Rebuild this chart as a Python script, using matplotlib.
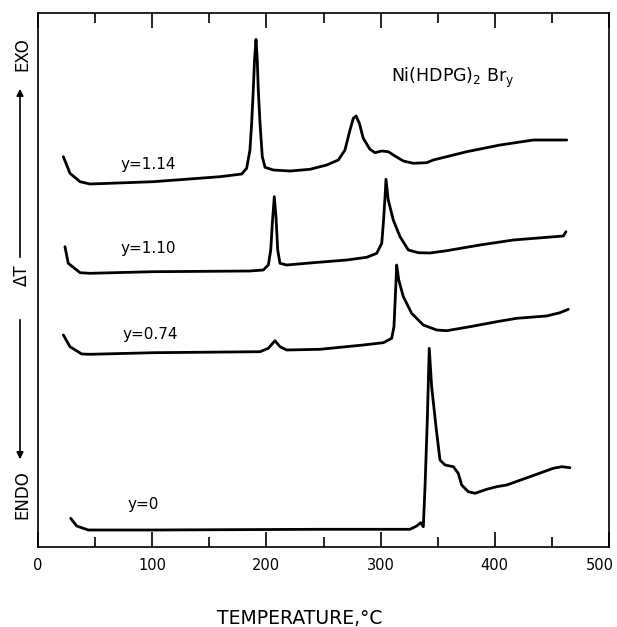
import matplotlib
matplotlib.use("Agg")
import matplotlib.pyplot as plt
import matplotlib.transforms as mtransforms
from matplotlib.patches import FancyArrowPatch

# ---- data (temperature in °C, ΔT in arbitrary units) ----
t_114 = [22.2, 28.0, 36.8, 45.5, 101.0, 159.4, 178.4, 182.7, 185.6, 187.1, 188.5, 189.6, 190.9, 192.0,
         192.9, 194.4, 196.4, 198.8, 206.0, 220.7, 238.2, 252.8, 263.0, 268.8, 273.2, 276.1, 278.5,
         281.4, 284.8, 290.7, 295.1, 301.0, 306.7, 312.6, 319.9, 328.6, 340.4, 346.1, 375.4, 404.6,
         433.7, 463.0]
d_114 = [390.3, 373.7, 365.3, 363, 365.3, 370.3, 373, 378.7, 397, 424, 457, 487, 507.5, 487,
         457, 424, 390.3, 379.7, 377, 376, 377.7, 382, 387, 397, 417, 428.7, 431,
         423.7, 408.7, 397.7, 394.3, 396, 395.3, 391, 386, 383.7, 384.3, 387, 395.3, 402,
         407, 407]

t_110 = [23.6, 26.5, 36.8, 45.5, 101.0, 185.6, 197.3, 201.7, 203.8, 205.2, 206.9, 208.4, 209.9, 211.9,
         217.8, 241.1, 270.3, 287.8, 296.6, 301.0, 302.4, 303.9, 304.7, 306.7, 311.1, 317.0, 324.3,
         333.0, 343.3, 357.9, 387.0, 416.2, 460.0, 462.3]
d_110 = [300.3, 283.7, 274.3, 273.7, 275.3, 276, 277, 282, 297, 323.7, 350.3, 330.3, 297, 283.7,
         282, 284.3, 287, 289.7, 293.7, 303.7, 323.7, 350.3, 367.7, 347, 327, 310.3, 297,
         294.3, 294, 296.3, 302, 307, 311, 315.3]

t_074 = [22.2, 28.0, 38.3, 45.5, 101.0, 194.4, 201.7, 207.5, 211.9, 217.8, 246.9, 284.8, 302.4, 309.7,
         311.7, 312.9, 314.1, 315.9, 319.9, 327.2, 337.4, 349.1, 357.9, 378.3, 401.7, 419.2, 445.4,
         457.1, 464.4]
d_074 = [212, 200.3, 193, 192.7, 194.3, 195.3, 198.7, 206.3, 200.3, 197, 197.7, 202, 204.3, 208.7,
         220.3, 250.3, 282, 267, 250.3, 233.7, 222, 217, 216.3, 220.3, 225.3, 228.7, 231,
         234.3, 237.7]

t_000 = [28.6, 33.9, 44.0, 101.0, 246.9, 325.7, 331.6, 335.1, 337.4, 338.9, 340.9, 342.6, 344.7, 348.5,
         352.0, 356.4, 363.7, 368.0, 371.0, 376.8, 382.7, 392.9, 401.7, 410.4, 430.8, 451.2, 458.6,
         465.8]
d_000 = [28.7, 21, 17, 17, 17.7, 17.7, 21, 24.3, 20.3, 60.3, 127, 198.7, 160.3, 120.3,
         87, 82, 80.3, 73.7, 62, 55.3, 53.7, 57.7, 60.3, 62, 70.3, 78.7, 80.3,
         79.3]

curve_labels = ["y=1.14", "y=1.10", "y=0.74", "y=0"]
label_t = [96.3, 96.3, 98.0, 92.0]
label_d = [382, 299, 212, 43]

x_ticks = [0, 100, 200, 300, 400, 500]
x_minor = [50, 150, 250, 350, 450]

plt.rcParams['font.family'] = ['DejaVu Sans']

fig = plt.figure(figsize=(6.17, 6.27), dpi=100)
ax = fig.add_axes([38 / 617, 80 / 627, 571 / 617, 534 / 627])

for t, d in [(t_114, d_114), (t_110, d_110), (t_074, d_074), (t_000, d_000)]:
    ax.plot(t, d, color='black', lw=2.0, solid_joinstyle='round', solid_capstyle='round')

for lab, x, y in zip(curve_labels, label_t, label_d):
    ax.text(x, y, lab, fontsize=11, ha='center', va='center')

ax.text(363.4, 469.5, r"Ni(HDPG)$_2$ Br$_\mathregular{y}$", fontsize=12.5, ha='center', va='center')

ax.set_xlim(0, 500)
ax.set_ylim(0, 534)
ax.set_xticks(x_ticks)
ax.set_xticks(x_minor, minor=True)
ax.set_yticks([])
ax.tick_params(axis='x', which='major', direction='in', length=11, width=1.2, top=True, pad=8, labelsize=10.5)
ax.tick_params(axis='x', which='minor', direction='in', length=7, width=1.2, top=True)
for s in ax.spines.values():
    s.set_linewidth(1.2)

fig.canvas.draw()
last = ax.get_xticklabels()[-1]
last.set_transform(last.get_transform() + mtransforms.ScaledTranslation(-9 / 100, 0, fig.dpi_scale_trans))

fig.text(300 / 617, 1 - 618 / 627, "TEMPERATURE,°C", fontsize=13.5, ha='center', va='center')

# left vertical annotation
xl = 22 / 617
fig.text(xl, 1 - 54 / 627, "EXO", rotation=90, fontsize=12, ha='center', va='center')
fig.text(xl, 1 - 275 / 627, "ΔT", rotation=90, fontsize=12, ha='center', va='center')
fig.text(xl, 1 - 495 / 627, "ENDO", rotation=90, fontsize=12, ha='center', va='center')
xa = 20 / 617
fig.add_artist(FancyArrowPatch((xa, 1 - 260 / 627), (xa, 1 - 86 / 627),
               transform=fig.transFigure, arrowstyle='-|>', mutation_scale=10, lw=1.2, color='black'))
fig.add_artist(FancyArrowPatch((xa, 1 - 317 / 627), (xa, 1 - 462 / 627),
               transform=fig.transFigure, arrowstyle='-|>', mutation_scale=10, lw=1.2, color='black'))

fig.savefig("out.png", dpi=100)
